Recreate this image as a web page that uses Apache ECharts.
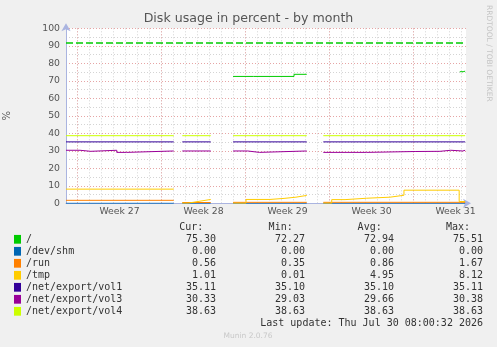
<!DOCTYPE html>
<html>
<head>
<meta charset="utf-8">
<script src="https://cdn.jsdelivr.net/npm/echarts@6/dist/echarts.min.js"></script>
<style>
html, body { margin: 0; padding: 0; background: #f0f0f0; }
#chart { width: 497px; height: 347px; }
</style>
</head>
<body>
<div id="chart"></div>
<script>
// x values: days counted from Monday 00:00 of week 27
const dayMin = -0.96;
const dayMax = 32.37;
const weekNames = ['Week 27', 'Week 28', 'Week 29', 'Week 30', 'Week 31'];
const weekStarts = [0, 7, 14, 21, 28];
const weekMids = [3.5, 10.5, 17.5, 24.5, 31.5];
const dayLines = [];
for (let d = 0; d <= 32; d++) dayLines.push(d);

const fieldNames = ['/', '/dev/shm', '/run', '/tmp', '/net/export/vol1', '/net/export/vol3', '/net/export/vol4'];
const fieldColors = ['#00cc00', '#0066b3', '#ff8000', '#ffcc00', '#330099', '#990099', '#ccff00'];
const curVals = [75.30, 0.00, 0.56, 1.01, 35.11, 30.33, 38.63];
const minVals = [72.27, 0.00, 0.35, 0.01, 35.10, 29.03, 38.63];
const avgVals = [72.94, 0.00, 0.86, 4.95, 35.10, 29.66, 38.63];
const maxVals = [75.51, 0.00, 1.67, 8.12, 35.11, 30.38, 38.63];
const rootWarning = 92;

// '-' marks a hole in the data
const rootPct = [[12.96, 72.5], [14.65, 72.8], [14.8, 72.5], [18.04, 73.7], [19.1, 73.7], [19.1, '-'],
  [31.85, 75.2], [32.13, 75.5], [32.3, 75.5]];
const shmPct = [[-0.96, 0], [8.02, 0], [8.02, '-'], [8.73, 0], [11.1, 0], [11.1, '-'],
  [12.96, 0], [19.1, 0], [19.1, '-'], [20.48, 0], [32.3, 0]];
const runPct = [[-0.96, 1.7], [8.02, 1.7], [8.02, '-'], [8.73, 0.45], [11.1, 0.45], [11.1, '-'],
  [12.96, 0.55], [19.1, 0.55], [19.1, '-'], [20.48, 0.56], [32.3, 0.56]];
const tmpPct = [[-0.96, 8.1], [8.02, 8.1], [8.02, '-'],
  [8.73, 0.1], [9.21, 1.2], [10.2, 2.2], [11.1, 2.2], [11.1, '-'],
  [12.96, 0.05], [14.04, 2.2], [16.04, 2.8], [17.21, 3.5], [18.2, 4.5], [19.1, 4.5], [19.1, '-'],
  [20.48, 0.05], [21.18, 2.1], [22.29, 2.9], [24.1, 3.5], [26.04, 4.6], [27.2, 7.5], [31.8, 1.0], [32.3, 1.0]];
const vol1Pct = [[-0.96, 35.1], [8.02, 35.1], [8.02, '-'], [8.73, 35.1], [11.1, 35.1], [11.1, '-'],
  [12.96, 35.1], [19.1, 35.1], [19.1, '-'], [20.48, 35.1], [32.3, 35.1]];
const vol3Pct = [[-0.96, 30.3], [0.21, 29.7], [1.1, 30.3], [3.27, 29.1], [4.1, 29.9], [8.02, 29.9], [8.02, '-'],
  [8.73, 29.9], [11.1, 29.9], [11.1, '-'],
  [12.96, 29.9], [14.18, 29.1], [15.15, 29.9], [19.1, 29.9], [19.1, '-'],
  [20.48, 29.1], [24.1, 29.6], [28.13, 29.7], [30.2, 30.3], [31.1, 29.9], [32.1, 30.3], [32.3, 30.3]];
const vol4Pct = [[-0.96, 38.63], [8.02, 38.63], [8.02, '-'], [8.73, 38.63], [11.1, 38.63], [11.1, '-'],
  [12.96, 38.63], [19.1, 38.63], [19.1, '-'], [20.48, 38.63], [32.3, 38.63]];
const fieldData = [rootPct, shmPct, runPct, tmpPct, vol1Pct, vol3Pct, vol4Pct];

const axisColor = '#aab4e0';
const majorGrid = '#e6a5a5';
const minorGrid = '#d4d4d4';
const mono = '"DejaVu Sans Mono", monospace';
const sans = '"DejaVu Sans", sans-serif';

const series = fieldNames.map((name, i) => ({
  name: name,
  type: 'line',
  step: 'end',
  data: fieldData[i],
  symbol: 'none',
  showSymbol: false,
  color: fieldColors[i],
  lineStyle: { width: 1, color: fieldColors[i] },
  animation: false
}));
series[0].markLine = {
  silent: true,
  symbol: 'none',
  label: { show: false },
  lineStyle: { color: fieldColors[0], type: [7, 3], width: 1.5 },
  data: [{ yAxis: rootWarning }]
};

const chart = echarts.init(document.getElementById('chart'));
chart.setOption({
  backgroundColor: '#f0f0f0',
  animation: false,
  title: {
    text: 'Disk usage in percent - by month',
    left: 'center',
    top: 7,
    textStyle: { fontFamily: sans, fontSize: 12.6, fontWeight: 'normal', color: '#555' }
  },
  grid: {
    left: 66, top: 28.3, width: 400, height: 175,
    show: true, backgroundColor: '#fff', borderWidth: 0,
    containLabel: false, outerBoundsMode: 'none'
  },
  xAxis: [
    {
      type: 'value', min: dayMin, max: dayMax, position: 'bottom',
      axisLine: { show: true, lineStyle: { color: axisColor }, symbol: ['none', 'arrow'], symbolSize: [7, 8], symbolOffset: [0, 5] },
      axisTick: { show: false, customValues: dayLines },
      splitLine: { show: true, lineStyle: { color: minorGrid, type: [1, 2] } },
      axisLabel: {
        customValues: weekMids,
        formatter: v => weekNames[weekMids.indexOf(v)],
        color: '#555', fontFamily: sans, fontSize: 9.3, margin: 4
      }
    },
    {
      type: 'value', min: dayMin, max: dayMax, position: 'bottom',
      axisLine: { show: false },
      axisTick: { show: false, customValues: weekStarts },
      axisLabel: { show: false },
      splitLine: { show: true, lineStyle: { color: majorGrid, type: [1, 2] } }
    }
  ],
  yAxis: {
    type: 'value', min: 0, max: 100, interval: 10,
    axisLine: { show: true, onZero: false, lineStyle: { color: axisColor }, symbol: ['none', 'arrow'], symbolSize: [7, 8], symbolOffset: [0, 5] },
    axisTick: { show: false },
    axisLabel: { color: '#555', fontFamily: sans, fontSize: 9.3, margin: 6 },
    splitLine: { show: true, lineStyle: { color: majorGrid, type: [1, 2] } },
    minorTick: { show: false, splitNumber: 2 },
    minorSplitLine: { show: true, lineStyle: { color: minorGrid, type: [1, 2] } },
    name: '%', nameLocation: 'middle', nameGap: 54, nameRotate: 90,
    nameTextStyle: { color: '#555', fontFamily: sans, fontSize: 10 }
  },
  legend: {
    data: fieldNames,
    orient: 'vertical',
    left: 14, top: 233.3,
    padding: 0, itemGap: 0,
    itemWidth: 7, itemHeight: 8.75,
    icon: 'rect',
    selectedMode: false,
    lineStyle: { width: 0 },
    formatter: name => {
      const i = fieldNames.indexOf(name);
      return '{n|' + name + '}{v|' + curVals[i].toFixed(2) + '}{v|' + minVals[i].toFixed(2) +
        '}{v|' + avgVals[i].toFixed(2) + '}{v|' + maxVals[i].toFixed(2) + '}';
    },
    textStyle: {
      fontFamily: mono, fontSize: 10, color: '#333', lineHeight: 12,
      rich: {
        n: { width: 101, fontFamily: mono, fontSize: 10, color: '#333', lineHeight: 12 },
        v: { width: 89, align: 'right', fontFamily: mono, fontSize: 10, color: '#333', lineHeight: 12 }
      }
    }
  },
  graphic: [
    { type: 'text', x: 203.3, y: 227, style: { text: 'Cur:', align: 'right', verticalAlign: 'middle', font: '10px ' + mono, fill: '#333' } },
    { type: 'text', x: 292.7, y: 227, style: { text: 'Min:', align: 'right', verticalAlign: 'middle', font: '10px ' + mono, fill: '#333' } },
    { type: 'text', x: 381.7, y: 227, style: { text: 'Avg:', align: 'right', verticalAlign: 'middle', font: '10px ' + mono, fill: '#333' } },
    { type: 'text', x: 470, y: 227, style: { text: 'Max:', align: 'right', verticalAlign: 'middle', font: '10px ' + mono, fill: '#333' } },
    { type: 'text', x: 483, y: 323.7, style: { text: 'Last update: Thu Jul 30 08:00:32 2026', align: 'right', verticalAlign: 'middle', font: '10px ' + mono, fill: '#333' } },
    { type: 'text', x: 248, y: 336, style: { text: 'Munin 2.0.76', align: 'center', verticalAlign: 'middle', font: '7.5px ' + sans, fill: '#c8c8c8' } },
    { type: 'text', x: 488.5, y: 5, rotation: -Math.PI / 2, style: { text: 'RRDTOOL / TOBI OETIKER', align: 'left', verticalAlign: 'middle', font: '7.5px ' + sans, fill: '#c4c4c4' } }
  ],
  series: series
});
</script>
</body>
</html>
